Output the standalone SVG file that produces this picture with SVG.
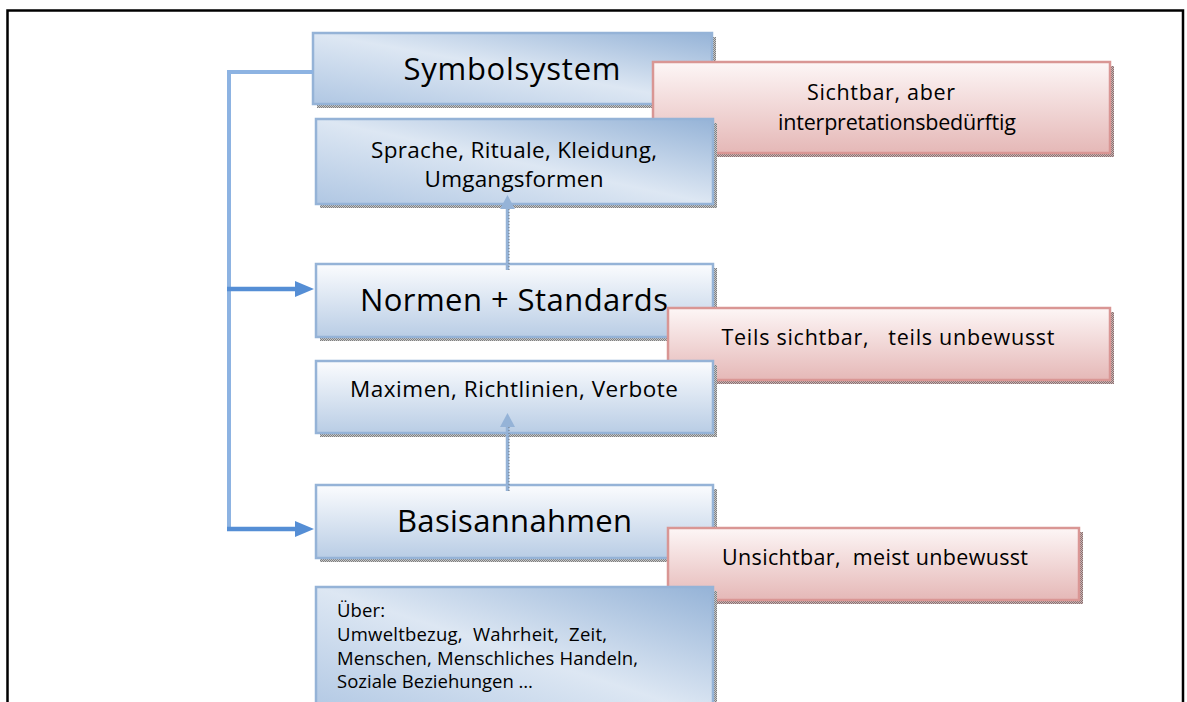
<svg xmlns="http://www.w3.org/2000/svg" width="1187" height="702" viewBox="0 0 1187 702">
  <style>
    .t { font-family: "Open Sans", "Noto Sans", "Liberation Sans", sans-serif; fill: #000; white-space: pre; }
    .big { font-size: 31px; }
    .mid { font-size: 22.5px; }
    .red { font-size: 21.5px; }
    .small { font-size: 18.5px; }
    .boxA { fill: url(#gDiag); stroke: #95b3d7; stroke-width: 2.5; }
    .boxB { fill: url(#gVert); stroke: #95b3d7; stroke-width: 2.5; }
    .boxR { fill: url(#gRed); stroke: #d99694; stroke-width: 2.5; }
    .shadow { fill: url(#dots); }
    .shadowR { fill: url(#dotsR); }
    .bracket { fill: none; stroke: #8db3e2; stroke-width: 4; }
    .feed { fill: none; stroke: #558ed5; stroke-width: 4.5; }
    .up { fill: none; stroke: #95b3d7; stroke-width: 3.5; }
    .upDots { fill: none; stroke: #5a5a5a; stroke-width: 1; stroke-dasharray: 1 2; opacity: 0.7; }
  </style>
  <defs>
    <linearGradient id="gDiag" x1="1" y1="0" x2="0" y2="1">
      <stop offset="0" stop-color="#95b3d7"/>
      <stop offset="0.5" stop-color="#dde7f3"/>
      <stop offset="1" stop-color="#b0c7e3"/>
    </linearGradient>
    <linearGradient id="gVert" x1="0" y1="0" x2="0" y2="1">
      <stop offset="0" stop-color="#fbfcfe"/>
      <stop offset="1" stop-color="#b9cde5"/>
    </linearGradient>
    <linearGradient id="gRed" x1="0" y1="0" x2="0" y2="1">
      <stop offset="0" stop-color="#fdf6f6"/>
      <stop offset="1" stop-color="#e5b8b7"/>
    </linearGradient>
    <pattern id="dots" width="2" height="2" patternUnits="userSpaceOnUse">
      <rect width="2" height="2" fill="#c8c8c8"/>
      <rect width="1" height="1" fill="#7f7f7f"/>
      <rect x="1" y="1" width="1" height="1" fill="#7f7f7f"/>
    </pattern>
    <pattern id="dotsR" width="2" height="2" patternUnits="userSpaceOnUse">
      <rect width="2" height="2" fill="#c9b5b5"/>
      <rect width="1" height="1" fill="#8a7070"/>
      <rect x="1" y="1" width="1" height="1" fill="#8a7070"/>
    </pattern>
  </defs>

  <rect width="1187" height="702" fill="#ffffff"/>

  <!-- page frame -->
  <path d="M7.5,702 V10.5 H1183 V702" fill="none" stroke="#000" stroke-width="2.5"/>

  <!-- top level -->
  <g id="symbolsystem">
    <rect class="shadow" x="317" y="37" width="399" height="71"/>
    <rect class="boxA" x="313" y="33" width="399" height="71"/>
    <text class="t big" x="512" y="80" text-anchor="middle" textLength="217">Symbolsystem</text>
  </g>
  <g id="sichtbar">
    <rect class="shadowR" x="657" y="66" width="457" height="91"/>
    <rect class="boxR" x="653" y="62" width="457" height="91"/>
    <text class="t red" x="881" y="100" text-anchor="middle" textLength="148">Sichtbar, aber</text>
    <text class="t red" x="897" y="130" text-anchor="middle" textLength="238">interpretationsbedürftig</text>
  </g>
  <g id="sprache">
    <rect class="shadow" x="320" y="123" width="397" height="85"/>
    <rect class="boxA" x="316" y="119" width="397" height="85"/>
    <text class="t mid" x="514" y="158" text-anchor="middle" textLength="286">Sprache, Rituale, Kleidung,</text>
    <text class="t mid" x="514" y="187" text-anchor="middle" textLength="179">Umgangsformen</text>
  </g>

  <!-- middle level -->
  <g id="normen">
    <rect class="shadow" x="320" y="268" width="397" height="73"/>
    <rect class="boxB" x="316" y="264" width="397" height="73"/>
    <text class="t big" x="514" y="311" text-anchor="middle" textLength="308">Normen + Standards</text>
  </g>
  <g id="teils">
    <rect class="shadowR" x="672" y="312" width="442" height="72"/>
    <rect class="boxR" x="668" y="308" width="442" height="72"/>
    <text class="t red" x="888" y="345" text-anchor="middle" textLength="333">Teils sichtbar,   teils unbewusst</text>
  </g>
  <g id="maximen">
    <rect class="shadow" x="320" y="365" width="397" height="72"/>
    <rect class="boxB" x="316" y="361" width="397" height="72"/>
    <text class="t mid" x="514" y="397" text-anchor="middle" textLength="328">Maximen, Richtlinien, Verbote</text>
  </g>

  <!-- bottom level -->
  <g id="basisannahmen">
    <rect class="shadow" x="320" y="489" width="397" height="73"/>
    <rect class="boxB" x="316" y="485" width="397" height="73"/>
    <text class="t big" x="514.5" y="532" text-anchor="middle" textLength="235">Basisannahmen</text>
  </g>
  <g id="unsichtbar">
    <rect class="shadowR" x="672" y="532" width="411" height="72"/>
    <rect class="boxR" x="668" y="528" width="411" height="72"/>
    <text class="t red" x="875" y="565" text-anchor="middle" textLength="306">Unsichtbar,  meist unbewusst</text>
  </g>
  <g id="ueber">
    <rect class="shadow" x="320" y="591" width="397" height="130"/>
    <rect class="boxA" x="316" y="587" width="397" height="130"/>
    <text class="t small" x="337" y="617" textLength="48">Über:</text>
    <text class="t small" x="337" y="641" textLength="270">Umweltbezug,  Wahrheit,  Zeit,</text>
    <text class="t small" x="337" y="665" textLength="301">Menschen, Menschliches Handeln,</text>
    <text class="t small" x="337" y="688" textLength="196">Soziale Beziehungen …</text>
  </g>

  <!-- connectors -->
  <g id="connectors">
    <path class="bracket" d="M313,72 H229 V531"/>
    <path class="feed" d="M227,289 H298"/>
    <polygon points="295,281 314,289 295,297" fill="#558ed5"/>
    <path class="feed" d="M227,529 H298"/>
    <polygon points="295,521 314,529 295,537" fill="#558ed5"/>

    <path class="up" d="M507.5,270 V207"/>
    <path class="upDots" d="M509,270 V209"/>
    <polygon points="500,209 507.5,195 515,209" fill="#95b3d7"/>

    <path class="up" d="M507.5,491 V425"/>
    <path class="upDots" d="M509,491 V427"/>
    <polygon points="500,427 507.5,413 515,427" fill="#95b3d7"/>
  </g>
</svg>
